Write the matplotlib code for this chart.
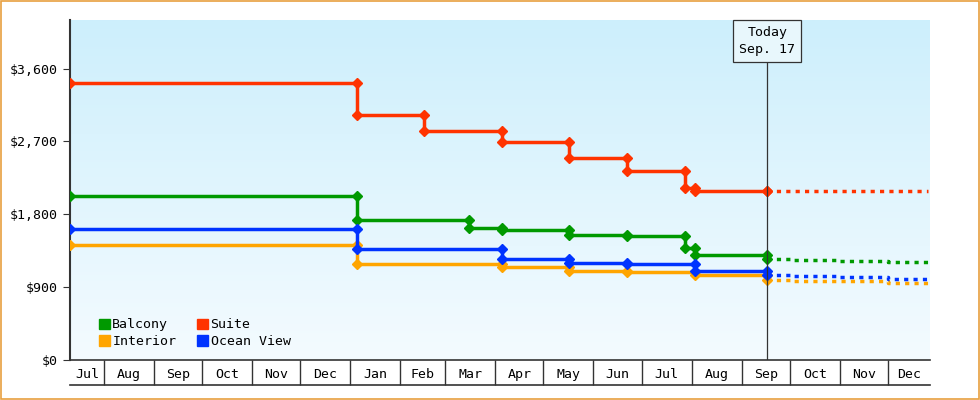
import matplotlib
matplotlib.use("Agg")
import matplotlib.pyplot as plt
import matplotlib.dates as mdates
import numpy as np
from datetime import datetime
from matplotlib.patches import Rectangle, Patch
from matplotlib.colors import LinearSegmentedColormap

plt.rcParams['font.family'] = ['DejaVu Sans Mono']

start = datetime(2024, 7, 11)
end = datetime(2025, 12, 27)
today = datetime(2025, 9, 17)

# change dates and prices (price after each change)
change_dates = ["2024-07-11", "2025-01-05", "2025-02-16", "2025-03-16", "2025-04-05",
                "2025-05-17", "2025-06-22", "2025-07-28", "2025-08-03", "2025-09-17"]
suite =      [3420, 3030, 2835, 2835, 2690, 2490, 2340, 2130, 2090, 2090]
balcony =    [2020, 1735, 1735, 1635, 1600, 1550, 1535, 1385, 1300, 1250]
ocean_view = [1620, 1375, 1375, 1375, 1250, 1200, 1188, 1188, 1100, 1050]
interior =   [1425, 1188, 1188, 1188, 1150, 1100, 1090, 1090, 1050, 990]

fc_dates = ["2025-09-17", "2025-10-01", "2025-11-01", "2025-12-01", "2025-12-26"]
fc_suite = [2090, 2090, 2090, 2090, 2090]
fc_balcony = [1250, 1235, 1225, 1210, 1200]
fc_ocean = [1050, 1035, 1020, 1005, 995]
fc_interior = [990, 980, 970, 955, 950]

series = [("Balcony", balcony, fc_balcony, "#009900"),
          ("Interior", interior, fc_interior, "#ffa500"),
          ("Suite", suite, fc_suite, "#ff3300"),
          ("Ocean View", ocean_view, fc_ocean, "#0033ff")]

fig = plt.figure(figsize=(9.8, 4.0), dpi=100)
fig.patch.set_facecolor("white")
fig.add_artist(Rectangle((0.0015, 0.003), 0.997, 0.994, transform=fig.transFigure,
                         fill=False, edgecolor="#e8a040", lw=1.2))
ax = fig.add_axes([70/980, 0.1, 860/980, 0.85])

ax.set_xlim(start, end)
ax.set_ylim(0, 4200)

grad = np.linspace(0, 1, 256).reshape(-1, 1)
cm = LinearSegmentedColormap.from_list("bg", ["#f4fbff", "#cdeffc"])
ax.imshow(grad, aspect="auto", cmap=cm, origin="lower",
          extent=[mdates.date2num(start), mdates.date2num(end), 0, 4200], zorder=0)

cd = [datetime.strptime(d, "%Y-%m-%d") for d in change_dates]
fd = [datetime.strptime(d, "%Y-%m-%d") for d in fc_dates]
for name, vals, fvals, col in series:
    xs, ys = [cd[0]], [vals[0]]
    for i in range(1, len(cd)):
        if vals[i] == vals[i-1] and i < len(cd) - 1:
            continue
        xs += [cd[i], cd[i]]
        ys += [vals[i-1], vals[i]]
    ax.plot(xs, ys, color=col, lw=2.5, zorder=3)
    ax.plot(xs, ys, ls="none", color=col, marker="D", ms=5, zorder=3)
    ax.plot(fd, fvals, color=col, lw=2.5, ls=(0, (1.2, 1.5)), drawstyle="steps-post", zorder=2)

ax.axvline(today, color="#333333", lw=0.9, zorder=4)
ax.annotate("Today\nSep. 17", xy=(today, 4200), xytext=(0, -15), textcoords="offset points",
            ha="center", va="center", fontsize=9.5, linespacing=1.4, annotation_clip=False,
            bbox=dict(boxstyle="square,pad=0.45", fc="#e8f7fc", ec="#333333", lw=0.9), zorder=5)

ax.set_yticks([0, 900, 1800, 2700, 3600])
ax.set_yticklabels(["$0", "$900", "$1,800", "$2,700", "$3,600"], fontsize=9.5)
ax.tick_params(axis="y", length=5, color="#333333")
for s in ["top", "right", "bottom"]:
    ax.spines[s].set_visible(False)
ax.spines["left"].set_color("#333333")
ax.spines["left"].set_linewidth(1.5)

months = [datetime(2024, m, 1) for m in range(8, 13)] + [datetime(2025, m, 1) for m in range(1, 13)]
ax.set_xticks(months)
ax.set_xticklabels([])
ax.tick_params(axis="x", which="major", length=18, direction="out", color="#333333", width=1)
bounds = [start] + months + [end]
mids = [bounds[i] + (bounds[i+1] - bounds[i]) / 2 for i in range(len(bounds)-1)]
labels = [b.strftime("%b") for b in bounds[:-1]]
ax.set_xticks(mids, minor=True)
ax.set_xticklabels(labels, minor=True, fontsize=9.5)
ax.tick_params(axis="x", which="minor", length=0, pad=6)
ax.plot([0, 1], [0, 0], transform=ax.transAxes, color="#333333", lw=1.2, clip_on=False)
ax.plot([0, 1], [-25/340, -25/340], transform=ax.transAxes, color="#333333", lw=1.2, clip_on=False)

handles = [Patch(color=c, label=n) for n, _, _, c in series]
ax.legend(handles=handles, ncol=2, loc="lower left", bbox_to_anchor=(0.02, 0.0),
          frameon=False, fontsize=9.5, handlelength=0.8, handleheight=0.8,
          handletextpad=0.2, columnspacing=1.6, labelspacing=0.3)

fig.savefig("out.png", dpi=100)
